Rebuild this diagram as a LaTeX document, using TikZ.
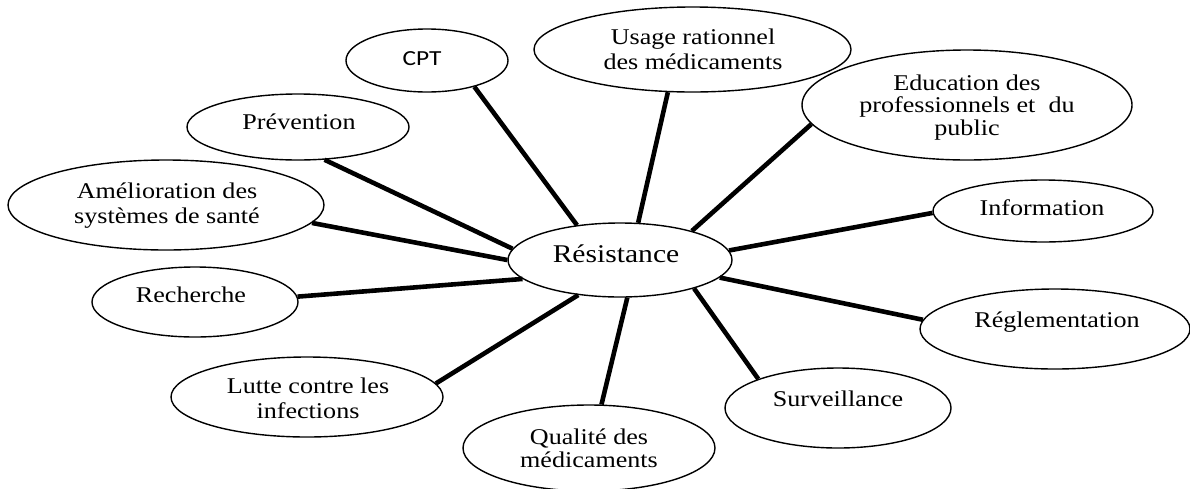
\documentclass[tikz,border=0pt]{standalone}
\usepackage{fontspec}
\setmainfont{Liberation Serif}[FakeStretch=1.16]
\newfontfamily\cptfont{Carlito}[FakeStretch=1.18]
\usetikzlibrary{shapes.geometric}
\newcommand\mylines[2]{{\fontsize{22.5}{#1}\selectfont\begin{tabular}[t]{@{}c@{}}#2\end{tabular}}}
\begin{document}
\begin{tikzpicture}[x=1pt,y=-1pt,
  bub/.style={draw, ellipse, line width=1.4pt, inner sep=0pt},
  txt/.style={anchor=base, inner sep=0pt, font=\fontsize{22.5}{24}\selectfont},
  link/.style={line width=4.6pt}]
\useasboundingbox (0,0) rectangle (1190,488);
% bubbles
\node[bub, minimum width=224pt, minimum height=74pt] (res) at (620,260) {};
\node[bub, minimum width=162pt, minimum height=63pt] (cpt) at (427,60.5) {};
\node[bub, minimum width=317pt, minimum height=85pt] (usage) at (692.5,49.5) {};
\node[bub, minimum width=330pt, minimum height=110pt] (edu) at (967,105) {};
\node[bub, minimum width=220pt, minimum height=62pt] (info) at (1043,211) {};
\node[bub, minimum width=270pt, minimum height=80pt] (regl) at (1055,329) {};
\node[bub, minimum width=226pt, minimum height=80pt] (surv) at (838,408) {};
\node[bub, minimum width=252pt, minimum height=86pt] (qual) at (589,448) {};
\node[bub, minimum width=272pt, minimum height=80pt] (lutte) at (307,397) {};
\node[bub, minimum width=206pt, minimum height=70pt] (rech) at (195,302) {};
\node[bub, minimum width=316pt, minimum height=90pt] (amel) at (166,205) {};
\node[bub, minimum width=222pt, minimum height=66pt] (prev) at (298,127) {};
% texts
\node[txt] (resT) at (616,262) {\fontsize{25.5}{26}\selectfont Résistance};
\node[txt, font=\cptfont\fontsize{21.5}{23}\selectfont] (cptT) at (422,65) {CPT};
\node[txt] (usageT) at (693,44) {\mylines{25}{Usage rationnel\\des médicaments}};
\node[txt] (eduT) at (967,90) {\mylines{22.5}{Education des\\professionnels et\ \ du\\public}};
\node[txt] (infoT) at (1042,215) {Information};
\node[txt] (reglT) at (1057,327) {Réglementation};
\node[txt] (survT) at (838,406) {Surveillance};
\node[txt] (qualT) at (589,444) {\mylines{23}{Qualité des\\médicaments}};
\node[txt] (lutteT) at (308,393) {\mylines{25}{Lutte contre les\\infections}};
\node[txt] (rechT) at (191,302) {Recherche};
\node[txt] (amelT) at (167,198) {\mylines{25}{Amélioration des\\systèmes de santé}};
\node[txt] (prevT) at (299,129) {Prévention};
% connectors
\draw[link] (res.141) -- (cpt.-29);
\draw[link] (res.64) -- (usage.240);
\draw[link] (res.22) -- (edu.187);
\draw[link] (res.5) -- (info.181);
\draw[link] (res.-10) -- (regl.176);
\draw[link] (res.-21) -- (surv.160);
\draw[link] (res.-79) -- (qual.74);
\draw[link] (res.220) -- (lutte.6);
\draw[link] (res.191) -- (rech.3);
\draw[link] (res.180) -- (amel.-7);
\draw[link] (res.174) -- (prev.-51);
\end{tikzpicture}
\end{document}
